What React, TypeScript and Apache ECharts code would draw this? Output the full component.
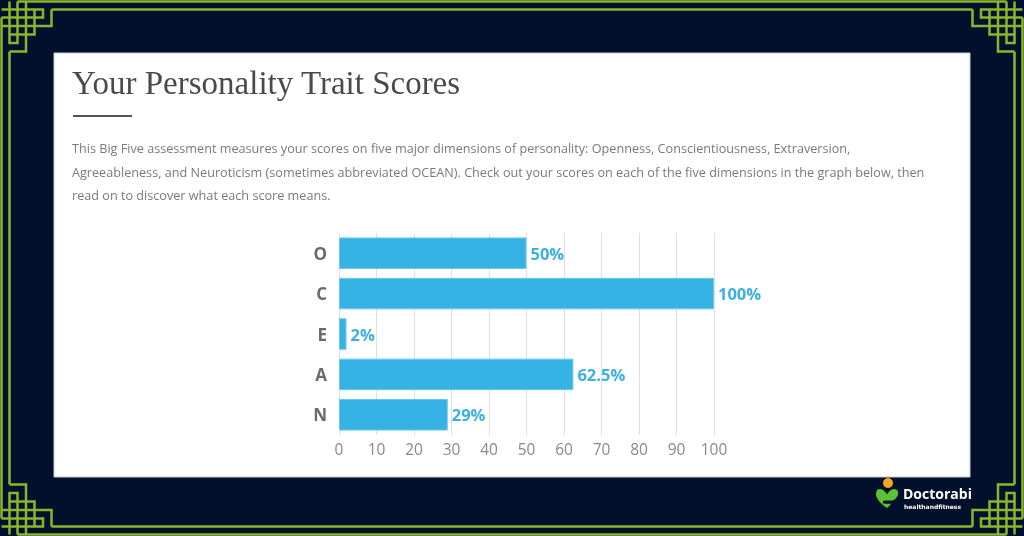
import React, { useEffect, useRef } from "react";
import * as echarts from "echarts";

const categories = ["O", "C", "E", "A", "N"];
const scores = [50, 100, 2, 62.5, 29];
const labels = ["50%", "100%", "2%", "62.5%", "29%"];
const xTicks = [0, 10, 20, 30, 40, 50, 60, 70, 80, 90, 100];

const titleText = "Your Personality Trait Scores";
const paragraphLines = [
  "This Big Five assessment measures your scores on five major dimensions of personality: Openness, Conscientiousness, Extraversion,",
  "Agreeableness, and Neuroticism (sometimes abbreviated OCEAN). Check out your scores on each of the five dimensions in the graph below, then",
  "read on to discover what each score means.",
];

const W = 1024;
const H = 536;
const GREEN = "#8db52c";
const P = [1.5, 9.5, 17.5, 26, 34.5, 43, 51.5];

function cornerLines(): any[] {
  const [p0, p1, p2, p3, p4, p5, p6] = P;
  const polys = [
    [[p2, p0], [p2, p5], [p1, p5], [p1, p4], [p4, p4], [p4, p1], [p5, p1], [p5, p2], [p0, p2]],
    [[p6, p1], [p6, p3], [p0, p3]],
    [[p1, p6], [p3, p6], [p3, p0]],
    [[p0, p1], [p4, p1]],
    [[p1, p0], [p1, p4]],
  ];
  return polys.map((pts) => ({
    type: "polyline",
    shape: { points: pts },
    style: { stroke: GREEN, lineWidth: 2.5, fill: null },
  }));
}

function borderGraphics(): any[] {
  const [p0, p1, p2, , , , p6] = P;
  const ls = (x1: number, y1: number, x2: number, y2: number) => ({
    type: "line",
    shape: { x1, y1, x2, y2 },
    style: { stroke: GREEN, lineWidth: 2.5 },
  });
  const out: any[] = [
    ls(p2, p0, W - p2, p0),
    ls(p2, H - p0, W - p2, H - p0),
    ls(p0, p2, p0, H - p2),
    ls(W - p0, p2, W - p0, H - p2),
    ls(p6, p1, W - p6, p1),
    ls(p6, H - p1, W - p6, H - p1),
    ls(p1, p6, p1, H - p6),
    ls(W - p1, p6, W - p1, H - p6),
  ];
  const corners = [
    { x: 0, y: 0, scaleX: 1, scaleY: 1 },
    { x: W, y: 0, scaleX: -1, scaleY: 1 },
    { x: 0, y: H, scaleX: 1, scaleY: -1 },
    { x: W, y: H, scaleX: -1, scaleY: -1 },
  ];
  corners.forEach((c) => out.push({ type: "group", ...c, children: cornerLines() }));
  return out;
}

export default function App() {
  const ref = useRef<HTMLDivElement>(null);
  useEffect(() => {
    if (!ref.current) return;
    const LogoShape = echarts.graphic.extendPath(
      "M2 2 C6 -1 10 3 12 6 C14 3 18 -1 22 2 C25 5 22 10 18 12 L10 12 C7 12 7 15 10 15 L16 15 C14 18 12 19 12 19 C7 16 -2 9 2 2 Z",
      {}
    );
    echarts.graphic.registerShape("logo", LogoShape as any);
    const chart = echarts.init(ref.current, null, { renderer: "svg" });
    const graphic: any[] = [
      { type: "rect", z: -10, shape: { x: 0, y: 0, width: W, height: H }, style: { fill: "#02102b" } },
      ...borderGraphics(),
      {
        type: "rect",
        z: -5,
        shape: { x: 54, y: 53, width: 916, height: 424 },
        style: { fill: "#ffffff", stroke: "#c9ccd3", lineWidth: 1 },
      },
      {
        type: "text",
        x: 72,
        y: 83,
        style: {
          text: titleText,
          font: "33px 'Liberation Serif'",
          fill: "#4a4a4a",
          verticalAlign: "middle",
        },
      },
      { type: "rect", shape: { x: 73, y: 115, width: 59, height: 2 }, style: { fill: "#555555" } },
      ...paragraphLines.map((t, i) => ({
        type: "text",
        x: 72,
        y: 148 + i * 23.5,
        style: { text: t, font: "12.65px 'Open Sans'", fill: "#7a7a7a", verticalAlign: "middle" },
      })),
      { type: "circle", shape: { cx: 888, cy: 483, r: 5 }, style: { fill: "#f5a623" } },
      { type: "logo", x: 875, y: 488, scaleX: 1, scaleY: 1.05, style: { fill: "#5cc134" } },
      {
        type: "text",
        x: 903,
        y: 493,
        style: { text: "Doctorabi", font: "bold 14px 'Open Sans'", fill: "#ffffff", verticalAlign: "middle" },
      },
      {
        type: "text",
        x: 904,
        y: 506,
        style: { text: "healthandfitness", font: "bold 6px 'DejaVu Sans'", fill: "#ffffff", verticalAlign: "middle" },
      },
    ];
    chart.setOption({
      animation: false,
      graphic,
      grid: { left: 339, right: W - 714, top: 233, bottom: H - 435, containLabel: false },
      xAxis: {
        type: "value",
        min: xTicks[0],
        max: xTicks[xTicks.length - 1],
        interval: 10,
        axisLine: { show: false },
        axisTick: { show: false },
        splitLine: { show: true, lineStyle: { color: "#e0e0e0", width: 1 } },
        axisLabel: { color: "#8a8a8a", fontSize: 15.5, fontFamily: "Open Sans", margin: 6 },
      },
      yAxis: {
        type: "category",
        data: categories,
        inverse: true,
        axisLine: { show: false },
        axisTick: { show: false },
        axisLabel: { color: "#6b6b6b", fontSize: 17, fontWeight: "bold", fontFamily: "Open Sans", margin: 12 },
      },
      series: [
        {
          type: "bar",
          data: scores,
          barCategoryGap: "22%",
          itemStyle: { color: "#34b3e4", borderColor: "#6cc8ec", borderWidth: 1 },
          label: {
            show: true,
            position: "right",
            distance: 4,
            formatter: (p: any) => labels[p.dataIndex],
            color: "#3cb0e2",
            fontSize: 16.5,
            fontWeight: "bold",
            fontFamily: "Open Sans",
          },
        },
      ],
    });
    return () => chart.dispose();
  }, []);
  return <div ref={ref} style={{ position: "fixed", left: 0, top: 0, width: W, height: H }} />;
}
